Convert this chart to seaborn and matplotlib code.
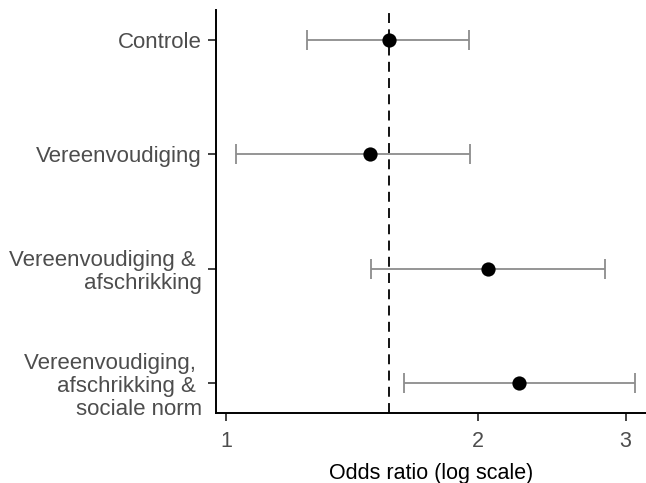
import numpy as np
import pandas as pd
import matplotlib
matplotlib.use("Agg")
import matplotlib.pyplot as plt
import seaborn as sns

# Odds ratios with 95% confidence intervals per condition
groups = [
    "Controle",
    "Vereenvoudiging",
    "Vereenvoudiging & \nafschrikking",
    "Vereenvoudiging, \nafschrikking & \nsociale norm",
]
odds_ratio = [1.564, 1.487, 2.058, 2.237]
ci_low = [1.248, 1.029, 1.488, 1.631]
ci_high = [1.948, 1.958, 2.833, 3.076]
x_ticks = [1, 2, 3]
x_tick_labels = ["1", "2", "3"]

df = pd.DataFrame({"group": groups, "or": odds_ratio, "lo": ci_low, "hi": ci_high})
df["pos"] = np.arange(len(df))

sns.set_theme(style="ticks")
plt.rcParams["font.family"] = ["Liberation Sans", "DejaVu Sans"]

fig = plt.figure(figsize=(6.46, 4.83), dpi=100)
ax = fig.add_axes([0.3344, 0.1449, 0.6650, 0.8344])

# confidence intervals
ax.errorbar(
    x=df["or"], y=df["pos"],
    xerr=[df["or"] - df["lo"], df["hi"] - df["or"]],
    fmt="none", ecolor="#8c8c8c", elinewidth=1.3, capsize=7.5, capthick=1.3, zorder=2,
)

# reference line at the control group's odds ratio
ax.axvline(df.loc[0, "or"], color="black", lw=1.3, linestyle=(0, (5.5, 3.5)), zorder=3)

sns.scatterplot(data=df, x="or", y="pos", ax=ax, color="black", s=105,
                edgecolor="black", linewidth=0, zorder=4, legend=False)

ax.set_xscale("log")
ax.set_xlim(0.973, 3.17)
ax.set_xticks(x_ticks)
ax.set_xticklabels(x_tick_labels)
ax.xaxis.set_minor_locator(matplotlib.ticker.NullLocator())
ax.set_yticks(df["pos"])
ax.set_yticklabels(df["group"], linespacing=1.1, fontsize=16)
ax.set_ylim(3.26, -0.26)

ax.set_xlabel("Odds ratio (log scale)", fontsize=15.5, color="black", labelpad=8)
ax.set_ylabel("")
ax.tick_params(axis="both", labelcolor="#4d4d4d", color="#333333",
               length=6, width=1.3)
ax.tick_params(axis="x", labelsize=15.5, pad=7)
ax.tick_params(axis="y", pad=4)

sns.despine(ax=ax)
for side in ["left", "bottom"]:
    ax.spines[side].set_linewidth(1.4)
    ax.spines[side].set_color("black")

fig.savefig("out.png", dpi=100)
